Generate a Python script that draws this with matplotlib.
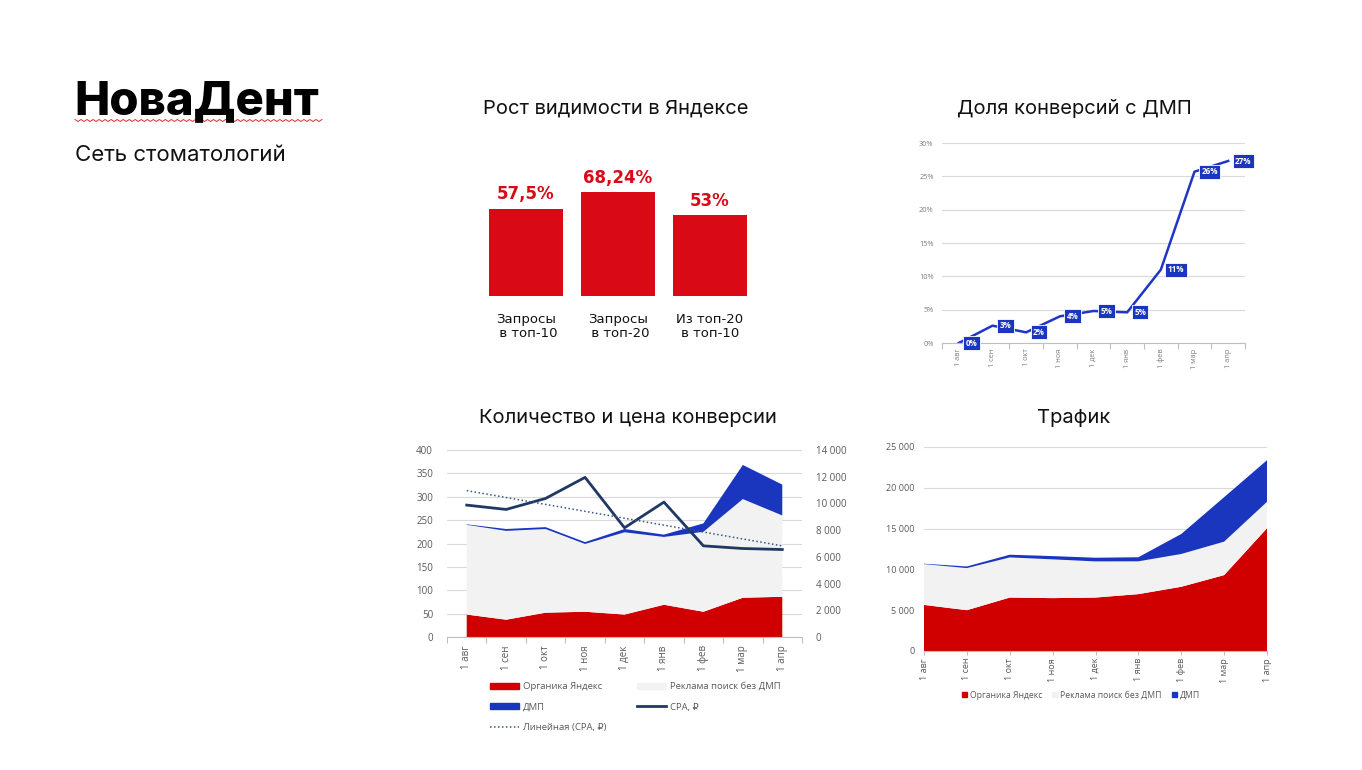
import matplotlib
matplotlib.use('Agg')
import matplotlib.pyplot as plt
import numpy as np
from matplotlib.patches import Patch
from matplotlib.lines import Line2D
from matplotlib.ticker import FuncFormatter, MultipleLocator

W, H, DPI = 1362, 770, 100

# ---------------- data ----------------
months = ['1 авг', '1 сен', '1 окт', '1 ноя', '1 дек', '1 янв', '1 фев', '1 мар', '1 апр']

vis_categories = ['Запросы\n в топ-10', 'Запросы\n в топ-20', 'Из топ-20\nв топ-10']
vis_values = [57.5, 68.24, 53]
vis_labels = ['57,5%', '68,24%', '53%']

dmp_share = [0.0, 2.6, 1.6, 4.0, 4.8, 4.6, 11.0, 25.7, 27.3]
dmp_share_labels = ['0%', '3%', '2%', '4%', '5%', '5%', '11%', '26%', '27%']

conv_organic = [48, 37, 52, 54, 48, 69, 54, 84, 86]
conv_ads = [192, 190, 179, 145, 176, 145, 171, 211, 174]
conv_dmp = [1, 4, 4, 4, 7, 5, 18, 73, 66]
cpa = [9875, 9550, 10375, 11950, 8175, 10100, 6825, 6625, 6550]

traffic_organic = [5650, 5000, 6550, 6480, 6550, 6970, 7870, 9300, 15040]
traffic_ads = [5000, 5160, 4920, 4750, 4430, 4020, 4020, 4100, 3240]
traffic_dmp = [50, 200, 330, 400, 450, 500, 2450, 5450, 5100]

# ---------------- style ----------------
BAR_RED = '#D90916'
RED = '#D00000'
GRAY = '#F2F2F2'
BLUE = '#1A36BE'
LINE_BLUE = '#2036C4'
NAVY = '#1F3864'
TREND = '#3B5487'
TICK = '#595959'
GRID = '#D9D9D9'
TITLE_F = ['Inter', 'DejaVu Sans']
CH_F = ['Open Sans', 'DejaVu Sans']

plt.rcParams['font.family'] = CH_F


def rect(x0, y0, x1, y1):
    return [x0 / W, 1 - y1 / H, (x1 - x0) / W, (y1 - y0) / H]


def thousands(v, _pos=None):
    return f'{int(round(v)):,}'.replace(',', '\u00a0')


def style_cat_axis(ax, n, fs, pad=3):
    x = np.arange(n)
    ax.set_xticks(x)
    ax.set_xticklabels(months, rotation=90, fontsize=fs, color=TICK)
    ax.set_xticks(np.arange(n + 1) - 0.5, minor=True)
    ax.tick_params(axis='x', which='major', length=0, pad=pad)
    ax.tick_params(axis='x', which='minor', length=4, color='#BFBFBF', width=0.8)
    for s in ['top', 'right', 'left']:
        ax.spines[s].set_visible(False)
    ax.spines['bottom'].set_color('#BFBFBF')
    ax.spines['bottom'].set_linewidth(0.8)
    ax.tick_params(axis='y', length=0, labelsize=fs, labelcolor=TICK)
    ax.grid(axis='y', color=GRID, lw=0.8)
    ax.set_axisbelow(True)


fig = plt.figure(figsize=(W / DPI, H / DPI), dpi=DPI)
fig.patch.set_facecolor('white')

# ---------------- headers ----------------
fig.text(74 / W, 1 - 102 / H, 'НоваДент', family=TITLE_F, fontsize=34, fontweight='heavy',
         va='center', ha='left', color='black')
# spell-check style wavy underline
wx = np.linspace(75, 322, 83)
wy = 120.5 + np.where(np.arange(wx.size) % 2 == 0, -1.0, 1.0)
fig.add_artist(Line2D(wx / W, 1 - wy / H, color='#E03030', lw=0.7, transform=fig.transFigure))

fig.text(75 / W, 1 - 155 / H, 'Сеть стоматологий', family=TITLE_F, fontsize=16,
         va='center', ha='left', color='#111111')

for txt, cx, cy in [('Рост видимости в Яндексе', 616, 109),
                    ('Доля конверсий с ДМП', 1074, 109),
                    ('Количество и цена конверсии', 628, 418),
                    ('Трафик', 1074, 418)]:
    fig.text(cx / W, 1 - cy / H, txt, family=TITLE_F, fontsize=14.5, ha='center', va='center',
             color='#111111')

# ---------------- visibility bars ----------------
axb = fig.add_axes(rect(480, 144, 756, 296))
xb = np.arange(len(vis_values))
axb.bar(xb, vis_values, width=0.815, color=BAR_RED)
axb.set_xlim(-0.5, len(vis_values) - 0.5)
axb.set_ylim(0, 100)
axb.axis('off')
for i, (v, lab, cat) in enumerate(zip(vis_values, vis_labels, vis_categories)):
    axb.annotate(lab, (i, v), xytext=(0, 4), textcoords='offset points', ha='center',
                 va='bottom', color=BAR_RED, fontsize=12, fontweight='bold', family='DejaVu Sans')
    axb.annotate(cat, (i, 0), xytext=(0, -12), textcoords='offset points', ha='center',
                 va='top', fontsize=9.5, family='DejaVu Sans', linespacing=1.15, color='#111111',
                 multialignment='center')

# ---------------- DMP share line ----------------
axs = fig.add_axes(rect(942, 143, 1245, 343))
x9 = np.arange(len(months))
axs.plot(x9, dmp_share, color=LINE_BLUE, lw=1.8, solid_joinstyle='round')
axs.set_xlim(-0.5, len(months) - 0.5)
axs.set_ylim(0, 30)
axs.yaxis.set_major_locator(MultipleLocator(5))
axs.yaxis.set_major_formatter(FuncFormatter(lambda v, p: f'{int(v)}%'))
style_cat_axis(axs, len(months), 5.3, pad=4)
axs.tick_params(axis='y', pad=6, labelcolor='#7F7F7F')
axs.tick_params(axis='x', labelcolor='#7F7F7F')
for i, (v, lab) in enumerate(zip(dmp_share, dmp_share_labels)):
    axs.annotate(lab, (i, v), xytext=(5, 0), textcoords='offset points', ha='left', va='center',
                 fontsize=5.8, color='white', fontweight='bold',
                 bbox=dict(boxstyle='square,pad=0.3', fc=BLUE, ec='white', lw=0.6))

# ---------------- conversions ----------------
axc = fig.add_axes(rect(447, 450, 802, 637))
axc.stackplot(x9, conv_organic, conv_ads, conv_dmp, colors=[RED, GRAY, BLUE], lw=0)
axc.set_xlim(-0.5, len(months) - 0.5)
axc.set_ylim(0, 400)
axc.yaxis.set_major_locator(MultipleLocator(50))
style_cat_axis(axc, len(months), 7, pad=6)
axc.tick_params(axis='y', pad=10)

axr = axc.twinx()
axr.plot(x9, cpa, color=NAVY, lw=2)
coef = np.polyfit(x9, cpa, 1)
trend = np.polyval(coef, x9)
axr.plot(x9, trend, color=TREND, lw=1.1, ls=(0, (1, 1.6)))
axr.set_ylim(0, 14000)
axr.yaxis.set_major_locator(MultipleLocator(2000))
axr.yaxis.set_major_formatter(FuncFormatter(thousands))
axr.tick_params(axis='y', length=0, labelsize=7, labelcolor=TICK, pad=10)
for s in ['top', 'right', 'left', 'bottom']:
    axr.spines[s].set_visible(False)

h_org = Patch(color=RED)
h_ads = Patch(color=GRAY)
h_dmp = Patch(color=BLUE)
h_cpa = Line2D([], [], color=NAVY, lw=2)
h_tr = Line2D([], [], color=TREND, lw=1.1, ls=(0, (1, 1.6)))
leg = fig.legend([h_org, h_dmp, h_tr, h_ads, h_cpa],
                 ['Органика Яндекс', 'ДМП', 'Линейная (CPA, ₽)', 'Реклама поиск без ДМП', 'CPA, ₽'],
                 ncol=2, loc='upper left', bbox_to_anchor=(490 / W, 1 - 682 / H),
                 frameon=False, fontsize=6.8, handlelength=3.1, handleheight=0.6,
                 handletextpad=0.35, columnspacing=3.3, labelspacing=1.22,
                 borderpad=0, borderaxespad=0, labelcolor=TICK)

# ---------------- traffic ----------------
axt = fig.add_axes(rect(924, 447, 1267, 651))
axt.stackplot(x9, traffic_organic, traffic_ads, traffic_dmp, colors=[RED, GRAY, BLUE], lw=0)
axt.set_xlim(0, len(months) - 1)
axt.set_ylim(0, 25000)
axt.yaxis.set_major_locator(MultipleLocator(5000))
axt.yaxis.set_major_formatter(FuncFormatter(thousands))
axt.set_xticks(x9)
axt.set_xticklabels(months, rotation=90, fontsize=6.5, color=TICK)
axt.tick_params(axis='x', length=3, color='#BFBFBF', width=0.8, pad=2)
axt.tick_params(axis='y', length=0, labelsize=6.5, labelcolor=TICK, pad=7)
for s in ['top', 'right', 'left']:
    axt.spines[s].set_visible(False)
axt.spines['bottom'].set_color('#BFBFBF')
axt.spines['bottom'].set_linewidth(0.8)
axt.grid(axis='y', color=GRID, lw=0.8)
axt.set_axisbelow(True)

fig.legend([Patch(color=RED), Patch(color=GRAY), Patch(color=BLUE)],
           ['Органика Яндекс', 'Реклама поиск без ДМП', 'ДМП'],
           ncol=3, loc='center left', bbox_to_anchor=(962 / W, 1 - 695 / H),
           frameon=False, fontsize=6.2, handlelength=0.6, handleheight=0.6,
           handletextpad=0.3, columnspacing=1.2, borderpad=0, borderaxespad=0,
           labelcolor=TICK)

fig.savefig('out.png', dpi=DPI, facecolor='white')
